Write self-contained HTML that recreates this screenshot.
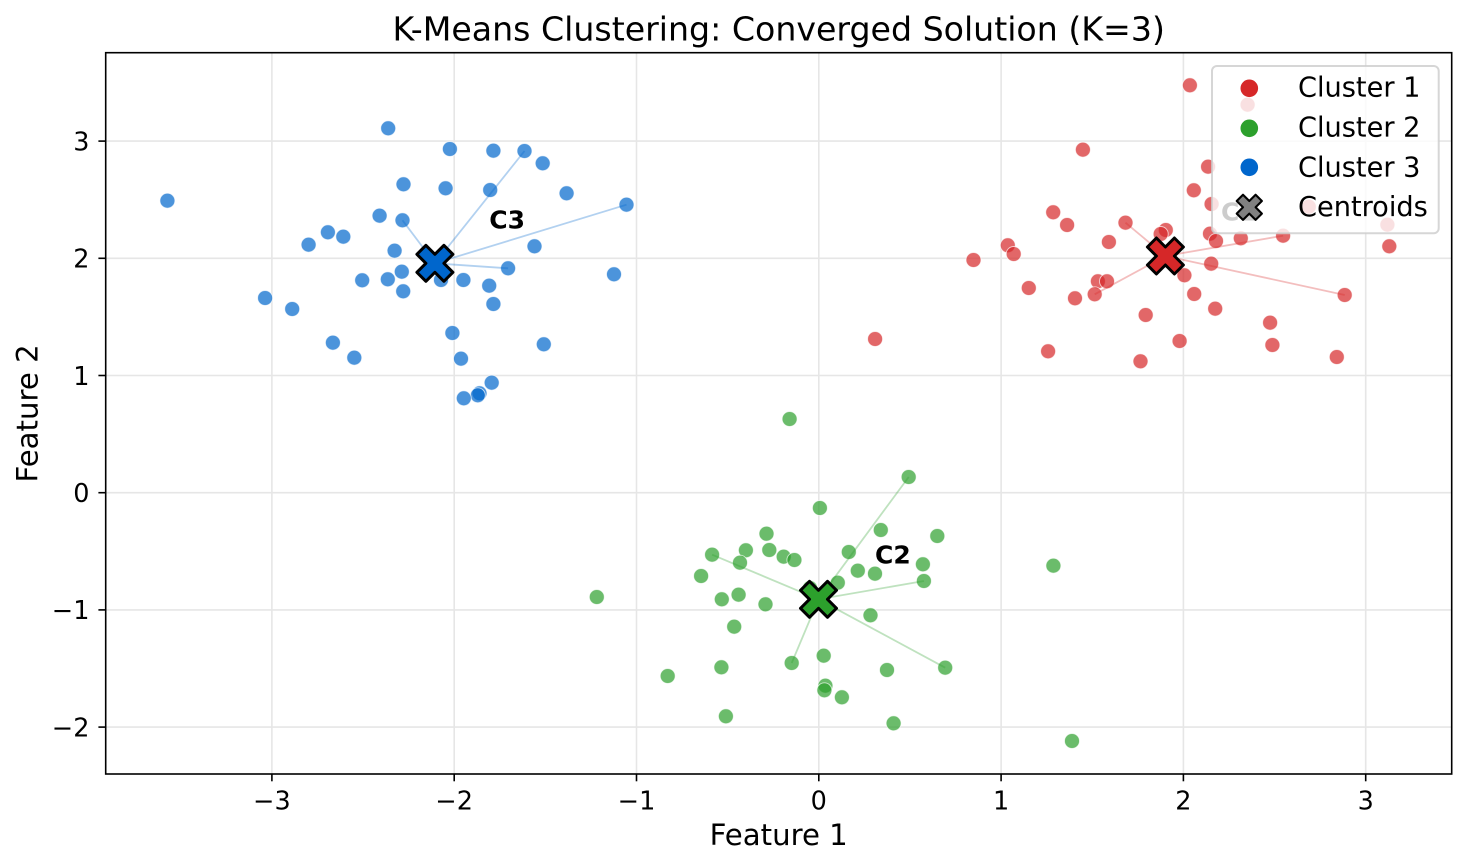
<!DOCTYPE html>
<html><head><meta charset="utf-8"><style>
html,body{margin:0;padding:0;background:#fff;}
svg{display:block;font-family:"DejaVu Sans","Liberation Sans",sans-serif;}
</style></head><body>
<svg width="1468" height="867" viewBox="0 0 1468 867" xmlns="http://www.w3.org/2000/svg">
<rect width="1468" height="867" fill="#fff"/>
<defs>
<clipPath id="ax"><rect x="105.7" y="52.7" width="1346" height="721.3"/></clipPath>
</defs>
<!-- grid -->
<g stroke="#e6e6e6" stroke-width="1.6">
<line x1="271.9" y1="52.7" x2="271.9" y2="774"/>
<line x1="454.2" y1="52.7" x2="454.2" y2="774"/>
<line x1="636.5" y1="52.7" x2="636.5" y2="774"/>
<line x1="818.8" y1="52.7" x2="818.8" y2="774"/>
<line x1="1001.1" y1="52.7" x2="1001.1" y2="774"/>
<line x1="1183.4" y1="52.7" x2="1183.4" y2="774"/>
<line x1="1365.7" y1="52.7" x2="1365.7" y2="774"/>
<line x1="105.7" y1="141.1" x2="1451.7" y2="141.1"/>
<line x1="105.7" y1="258.3" x2="1451.7" y2="258.3"/>
<line x1="105.7" y1="375.5" x2="1451.7" y2="375.5"/>
<line x1="105.7" y1="492.7" x2="1451.7" y2="492.7"/>
<line x1="105.7" y1="609.9" x2="1451.7" y2="609.9"/>
<line x1="105.7" y1="727.1" x2="1451.7" y2="727.1"/>
</g>
<g clip-path="url(#ax)">
<!-- cluster 1 red -->
<g fill="#d62728" fill-opacity="0.7" stroke="#fff" stroke-opacity="0.7" stroke-width="0.9">
<circle cx="1189.9" cy="85.3" r="7.5"/><circle cx="1247.6" cy="104.7" r="7.5"/><circle cx="1082.9" cy="149.7" r="7.5"/>
<circle cx="1208.1" cy="166.7" r="7.5"/><circle cx="1193.8" cy="190.3" r="7.5"/><circle cx="1211.6" cy="204" r="7.5"/>
<circle cx="1308.8" cy="206.7" r="7.5"/><circle cx="1053.2" cy="212.3" r="7.5"/><circle cx="1067.1" cy="225" r="7.5"/>
<circle cx="1125.5" cy="222.7" r="7.5"/><circle cx="1387.4" cy="224.7" r="7.5"/><circle cx="1165.8" cy="230" r="7.5"/>
<circle cx="1160.7" cy="234" r="7.5"/><circle cx="1210" cy="233.7" r="7.5"/><circle cx="1216" cy="241" r="7.5"/>
<circle cx="1240.8" cy="238.3" r="7.5"/><circle cx="1283.1" cy="235.7" r="7.5"/><circle cx="1389.3" cy="246.3" r="7.5"/>
<circle cx="1108.9" cy="242" r="7.5"/><circle cx="1007.8" cy="245.3" r="7.5"/><circle cx="1013.7" cy="254" r="7.5"/>
<circle cx="973.5" cy="260" r="7.5"/><circle cx="1211.2" cy="263.7" r="7.5"/><circle cx="1184.4" cy="275.3" r="7.5"/>
<circle cx="1097.9" cy="281.3" r="7.5"/><circle cx="1107" cy="281.3" r="7.5"/><circle cx="1028.8" cy="288" r="7.5"/>
<circle cx="1094.7" cy="294.3" r="7.5"/><circle cx="1075" cy="298.3" r="7.5"/><circle cx="1194.2" cy="294" r="7.5"/>
<circle cx="1344.7" cy="295" r="7.5"/><circle cx="1215.2" cy="308.7" r="7.5"/><circle cx="1145.7" cy="315" r="7.5"/>
<circle cx="1270.1" cy="322.7" r="7.5"/><circle cx="875.1" cy="339" r="7.5"/><circle cx="1179.6" cy="341" r="7.5"/>
<circle cx="1272.4" cy="345" r="7.5"/><circle cx="1048.1" cy="351.3" r="7.5"/><circle cx="1140.5" cy="361.3" r="7.5"/>
<circle cx="1336.8" cy="357" r="7.5"/>
</g>
<!-- cluster 2 green -->
<g fill="#2ca02c" fill-opacity="0.7" stroke="#fff" stroke-opacity="0.7" stroke-width="0.9">
<circle cx="789.6" cy="419" r="7.5"/><circle cx="908.7" cy="477" r="7.5"/><circle cx="819.9" cy="508" r="7.5"/>
<circle cx="880.8" cy="530" r="7.5"/><circle cx="937.3" cy="536" r="7.5"/><circle cx="766.5" cy="533.7" r="7.5"/>
<circle cx="745.9" cy="550.3" r="7.5"/><circle cx="769.3" cy="550" r="7.5"/><circle cx="783.7" cy="556.7" r="7.5"/>
<circle cx="794.4" cy="560" r="7.5"/><circle cx="848.8" cy="552" r="7.5"/><circle cx="712.1" cy="554.7" r="7.5"/>
<circle cx="740" cy="562.7" r="7.5"/><circle cx="922.9" cy="564.3" r="7.5"/><circle cx="857.8" cy="570.7" r="7.5"/>
<circle cx="875" cy="573.7" r="7.5"/><circle cx="701.1" cy="576" r="7.5"/><circle cx="837.8" cy="582.7" r="7.5"/>
<circle cx="923.9" cy="581" r="7.5"/><circle cx="596.8" cy="597" r="7.5"/><circle cx="721.8" cy="599.3" r="7.5"/>
<circle cx="738.6" cy="594.7" r="7.5"/><circle cx="765.5" cy="604.3" r="7.5"/><circle cx="870.5" cy="615.3" r="7.5"/>
<circle cx="734.2" cy="626.7" r="7.5"/><circle cx="1053.4" cy="565.7" r="7.5"/><circle cx="823.7" cy="655.7" r="7.5"/>
<circle cx="791.7" cy="663" r="7.5"/><circle cx="945.2" cy="667.7" r="7.5"/><circle cx="721.4" cy="667.3" r="7.5"/>
<circle cx="667.7" cy="676" r="7.5"/><circle cx="887" cy="670" r="7.5"/><circle cx="825.4" cy="685.7" r="7.5"/>
<circle cx="824.4" cy="690.3" r="7.5"/><circle cx="841.9" cy="697.3" r="7.5"/><circle cx="725.9" cy="716.3" r="7.5"/>
<circle cx="893.6" cy="723.3" r="7.5"/><circle cx="1072" cy="741" r="7.5"/><circle cx="810" cy="588" r="7.5"/>
</g>
<!-- cluster 3 blue -->
<g fill="#0066cc" fill-opacity="0.7" stroke="#fff" stroke-opacity="0.7" stroke-width="0.9">
<circle cx="388.2" cy="128.3" r="7.5"/><circle cx="167.4" cy="200.7" r="7.5"/><circle cx="449.9" cy="149" r="7.5"/>
<circle cx="493.4" cy="150.7" r="7.5"/><circle cx="524.5" cy="151" r="7.5"/><circle cx="542.7" cy="163.3" r="7.5"/>
<circle cx="403.5" cy="184.3" r="7.5"/><circle cx="445.6" cy="188.3" r="7.5"/><circle cx="490.2" cy="190" r="7.5"/>
<circle cx="566.6" cy="193.3" r="7.5"/><circle cx="626.5" cy="204.7" r="7.5"/><circle cx="379.6" cy="215.7" r="7.5"/>
<circle cx="402.5" cy="220.3" r="7.5"/><circle cx="327.9" cy="232.3" r="7.5"/><circle cx="343.3" cy="236.7" r="7.5"/>
<circle cx="308.6" cy="244.7" r="7.5"/><circle cx="394.6" cy="250.7" r="7.5"/><circle cx="534.5" cy="246.3" r="7.5"/>
<circle cx="508.1" cy="268.3" r="7.5"/><circle cx="401.8" cy="271.7" r="7.5"/><circle cx="387.8" cy="279.3" r="7.5"/>
<circle cx="362.2" cy="280.3" r="7.5"/><circle cx="441" cy="280" r="7.5"/><circle cx="463.4" cy="280" r="7.5"/>
<circle cx="489.2" cy="285.7" r="7.5"/><circle cx="403.2" cy="291.3" r="7.5"/><circle cx="614" cy="274.3" r="7.5"/>
<circle cx="493.4" cy="304" r="7.5"/><circle cx="265.1" cy="298" r="7.5"/><circle cx="292.2" cy="309" r="7.5"/>
<circle cx="452.4" cy="333" r="7.5"/><circle cx="543.8" cy="344.3" r="7.5"/><circle cx="332.9" cy="342.7" r="7.5"/>
<circle cx="354.3" cy="357.7" r="7.5"/><circle cx="461" cy="358.7" r="7.5"/><circle cx="491.7" cy="382.7" r="7.5"/>
<circle cx="479.5" cy="393.3" r="7.5"/><circle cx="477.8" cy="395.3" r="7.5"/><circle cx="463.8" cy="398.3" r="7.5"/>
</g>
<!-- lines -->
<g stroke-width="1.8" stroke-opacity="0.3" fill="none">
<g stroke="#d62728">
<line x1="1165.4" y1="256" x2="1125.5" y2="222.7"/>
<line x1="1165.4" y1="256" x2="1283.1" y2="235.7"/>
<line x1="1165.4" y1="256" x2="1344.7" y2="295"/>
<line x1="1165.4" y1="256" x2="1094.7" y2="294.3"/>
</g>
<g stroke="#2ca02c">
<line x1="818.5" y1="599.3" x2="908.7" y2="477"/>
<line x1="818.5" y1="599.3" x2="712.1" y2="554.7"/>
<line x1="818.5" y1="599.3" x2="923.9" y2="581"/>
<line x1="818.5" y1="599.3" x2="945.2" y2="667.7"/>
<line x1="818.5" y1="599.3" x2="791.7" y2="663"/>
</g>
<g stroke="#0066cc">
<line x1="434.9" y1="263.3" x2="402.5" y2="220.3"/>
<line x1="434.9" y1="263.3" x2="524.5" y2="151"/>
<line x1="434.9" y1="263.3" x2="626.5" y2="204.7"/>
<line x1="434.9" y1="263.3" x2="508.1" y2="268.3"/>
</g>
</g>
<!-- centroids -->
<g stroke="#000" stroke-width="3" stroke-linejoin="round">
<polygon transform="translate(1165.4,256)" fill="#d62728" points="9,-18 18,-9 9,0 18,9 9,18 0,9 -9,18 -18,9 -9,0 -18,-9 -9,-18 0,-9"/>
<polygon transform="translate(818.5,599.3)" fill="#2ca02c" points="9,-18 18,-9 9,0 18,9 9,18 0,9 -9,18 -18,9 -9,0 -18,-9 -9,-18 0,-9"/>
<polygon transform="translate(434.9,263.3)" fill="#0066cc" points="9,-18 18,-9 9,0 18,9 9,18 0,9 -9,18 -18,9 -9,0 -18,-9 -9,-18 0,-9"/>
</g>
<!-- labels -->
<g font-weight="bold" font-size="25" fill="#000">
<text x="1221" y="220.5">C1</text>
<text x="875" y="563.3">C2</text>
<text x="489.3" y="228.3">C3</text>
</g>
<!-- legend -->
<rect x="1212" y="66" width="226.7" height="167.3" rx="5" ry="5" fill="#fff" fill-opacity="0.8" stroke="#cccccc" stroke-opacity="0.8" stroke-width="2"/>
<circle cx="1249.3" cy="88.3" r="8.8" fill="#d62728"/>
<circle cx="1249.3" cy="128.3" r="8.8" fill="#2ca02c"/>
<circle cx="1249.3" cy="167.3" r="8.8" fill="#0066cc"/>
<polygon transform="translate(1249.3,207.3) scale(0.7)" fill="#808080" stroke="#000" stroke-width="3" stroke-linejoin="round" points="9,-18 18,-9 9,0 18,9 9,18 0,9 -9,18 -18,9 -9,0 -18,-9 -9,-18 0,-9"/>
<g font-size="27.2" fill="#000">
<text x="1298" y="96.7">Cluster 1</text>
<text x="1298" y="136.5">Cluster 2</text>
<text x="1298" y="176.3">Cluster 3</text>
<text x="1298" y="216">Centroids</text>
</g>
</g>
<!-- spines -->
<rect x="105.7" y="52.7" width="1346" height="721.3" fill="none" stroke="#000" stroke-width="1.6"/>
<!-- ticks -->
<g stroke="#000" stroke-width="1.6">
<line x1="271.9" y1="774" x2="271.9" y2="781.3"/>
<line x1="454.2" y1="774" x2="454.2" y2="781.3"/>
<line x1="636.5" y1="774" x2="636.5" y2="781.3"/>
<line x1="818.8" y1="774" x2="818.8" y2="781.3"/>
<line x1="1001.1" y1="774" x2="1001.1" y2="781.3"/>
<line x1="1183.4" y1="774" x2="1183.4" y2="781.3"/>
<line x1="1365.7" y1="774" x2="1365.7" y2="781.3"/>
<line x1="98.4" y1="141.1" x2="105.7" y2="141.1"/>
<line x1="98.4" y1="258.3" x2="105.7" y2="258.3"/>
<line x1="98.4" y1="375.5" x2="105.7" y2="375.5"/>
<line x1="98.4" y1="492.7" x2="105.7" y2="492.7"/>
<line x1="98.4" y1="609.9" x2="105.7" y2="609.9"/>
<line x1="98.4" y1="727.1" x2="105.7" y2="727.1"/>
</g>
<g font-size="25.5" fill="#000" text-anchor="middle">
<text x="271.9" y="809.3">−3</text>
<text x="454.2" y="809.3">−2</text>
<text x="636.5" y="809.3">−1</text>
<text x="818.8" y="809.3">0</text>
<text x="1001.1" y="809.3">1</text>
<text x="1183.4" y="809.3">2</text>
<text x="1365.7" y="809.3">3</text>
</g>
<g font-size="25.5" fill="#000" text-anchor="end">
<text x="89.5" y="150.4">3</text>
<text x="89.5" y="267.6">2</text>
<text x="89.5" y="384.8">1</text>
<text x="89.5" y="502">0</text>
<text x="89.5" y="619.2">−1</text>
<text x="89.5" y="736.4">−2</text>
</g>
<text x="778.7" y="845" font-size="29.2" text-anchor="middle" fill="#000">Feature 1</text>
<text transform="translate(37.5,413.4) rotate(-90)" font-size="29.2" text-anchor="middle" fill="#000">Feature 2</text>
<text x="778.7" y="40.3" font-size="33.2" text-anchor="middle" fill="#000">K-Means Clustering: Converged Solution (K=3)</text>
</svg>
</body></html>
